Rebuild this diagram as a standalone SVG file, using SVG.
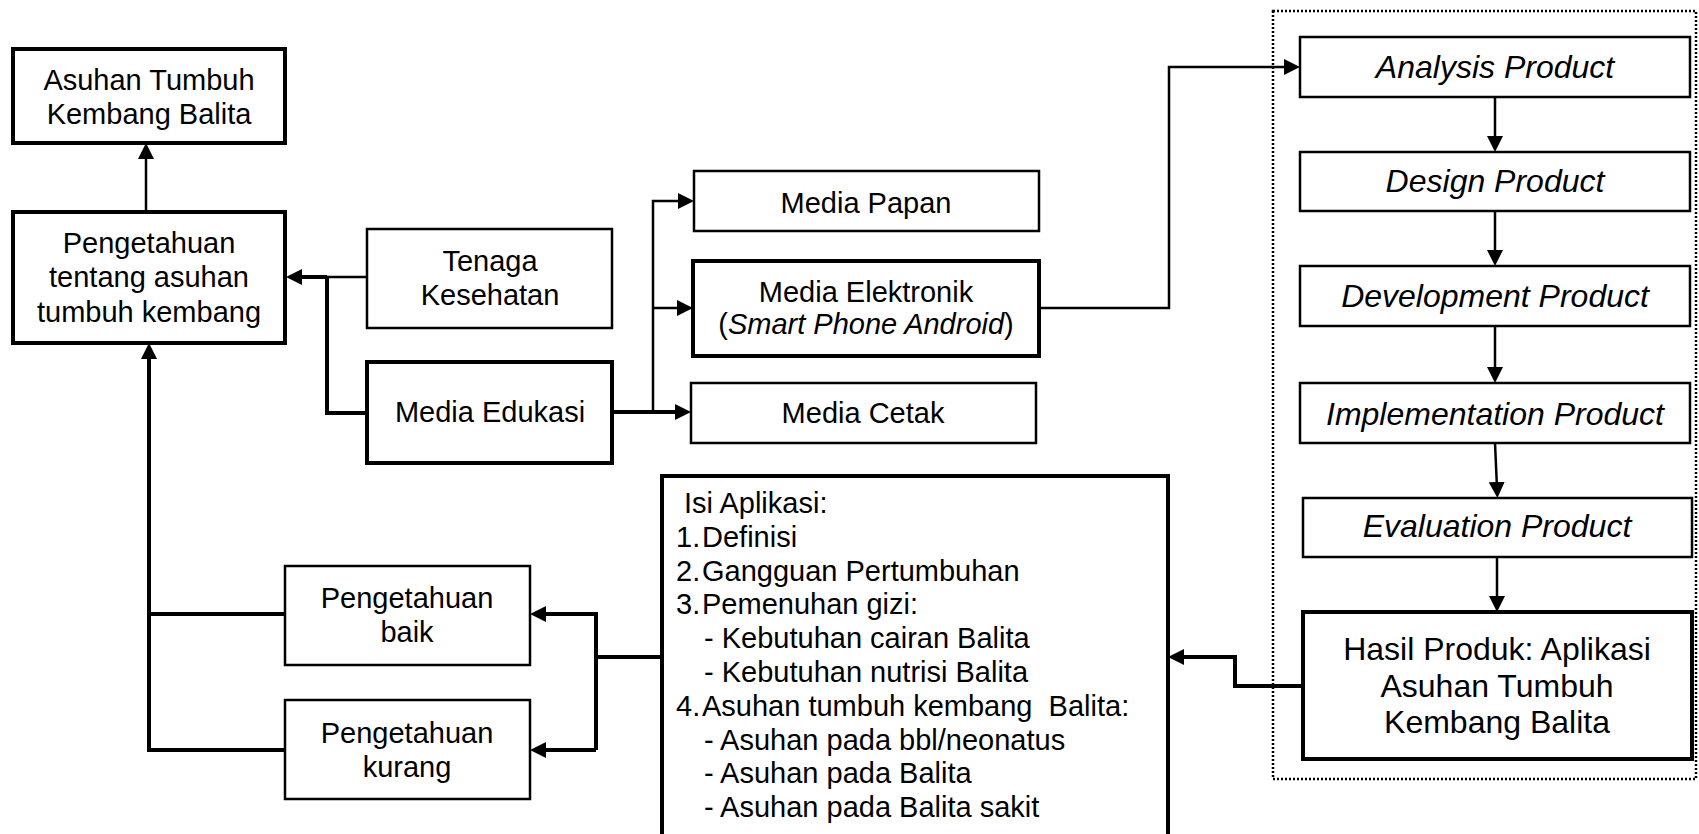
<svg xmlns="http://www.w3.org/2000/svg" width="1699" height="834" viewBox="0 0 1699 834">
<style>
  text { font-family: "Liberation Sans", Arial, sans-serif; font-size: 29px; fill: #000; }
  .c { text-anchor: middle; }
  .it { font-style: italic; font-size: 32px; }
  .big { font-size: 32px; }
  .thin { fill: #fff; stroke: #000; stroke-width: 2.5; }
  .thick { fill: #fff; stroke: #000; stroke-width: 4; }
  .ln { fill: none; stroke: #000; stroke-width: 2.5; }
  .lnb { fill: none; stroke: #000; stroke-width: 4; }
  .dot { fill: none; stroke: #000; stroke-width: 2.5; stroke-dasharray: 2 2; }
  .pre { white-space: pre; }
</style>
<defs>
  <marker id="ah" markerUnits="userSpaceOnUse" markerWidth="16" markerHeight="16" refX="6" refY="8" orient="auto">
    <path d="M0,0 L16,8 L0,16 z" fill="#000"/>
  </marker>
</defs>
<rect width="1699" height="834" fill="#fff"/>

<rect class="dot" x="1273" y="11" width="423" height="768"/>

<g id="connectors">
  <path class="ln" d="M146,212 V153" marker-end="url(#ah)"/>
  <path class="ln" d="M367,277 H327"/>
  <path class="lnb" d="M327,277 H296" marker-end="url(#ah)"/>
  <path class="lnb" d="M367,413 H327 V277"/>
  <path class="lnb" d="M612,412 H681" marker-end="url(#ah)"/>
  <path class="ln" d="M653,412 V201 H684" marker-end="url(#ah)"/>
  <path class="ln" d="M653,308 H683" marker-end="url(#ah)"/>
  <path class="ln" d="M1039,308 H1169 V67 H1290" marker-end="url(#ah)"/>
  <path class="ln" d="M1495,97 V142" marker-end="url(#ah)"/>
  <path class="ln" d="M1495,211 V256" marker-end="url(#ah)"/>
  <path class="ln" d="M1495,326 V373" marker-end="url(#ah)"/>
  <path class="ln" d="M1495,443 L1497,488" marker-end="url(#ah)"/>
  <path class="ln" d="M1497,557 V602" marker-end="url(#ah)"/>
  <path class="lnb" d="M1303,686 H1235 V657 H1178" marker-end="url(#ah)"/>
  <path class="lnb" d="M662,657 H596"/>
  <path class="lnb" d="M596,750 V614 H540" marker-end="url(#ah)"/>
  <path class="lnb" d="M596,750 H540" marker-end="url(#ah)"/>
  <path class="lnb" d="M285,614 H149"/>
  <path class="lnb" d="M285,750 H149 V353" marker-end="url(#ah)"/>
</g>

<g id="asuhan-tumbuh-kembang">
  <rect class="thick" x="13" y="49" width="272" height="94"/>
  <text class="c" x="149" y="90">Asuhan Tumbuh</text>
  <text class="c" x="149" y="124">Kembang Balita</text>
</g>

<g id="pengetahuan-tentang">
  <rect class="thick" x="13" y="212" width="272" height="131"/>
  <text class="c" x="149" y="253">Pengetahuan</text>
  <text class="c" x="149" y="287">tentang asuhan</text>
  <text class="c" x="149" y="322">tumbuh kembang</text>
</g>

<g id="tenaga-kesehatan">
  <rect class="thin" x="367" y="229" width="245" height="99"/>
  <text class="c" x="490" y="271">Tenaga</text>
  <text class="c" x="490" y="305">Kesehatan</text>
</g>

<g id="media-edukasi">
  <rect class="thick" x="367" y="362" width="245" height="101"/>
  <text class="c" x="490" y="422">Media Edukasi</text>
</g>

<g id="media-papan">
  <rect class="thin" x="694" y="171" width="345" height="60"/>
  <text class="c" x="866" y="213">Media Papan</text>
</g>

<g id="media-elektronik">
  <rect class="thick" x="693" y="261" width="346" height="95"/>
  <text class="c" x="866" y="302">Media Elektronik</text>
  <text class="c" x="866" y="334">(<tspan font-style="italic">Smart Phone Android</tspan>)</text>
</g>

<g id="media-cetak">
  <rect class="thin" x="691" y="383" width="345" height="60"/>
  <text class="c" x="863" y="423">Media Cetak</text>
</g>

<g id="analysis-product">
  <rect class="thin" x="1300" y="37" width="390" height="60"/>
  <text class="c it" x="1495" y="78">Analysis Product</text>
</g>

<g id="design-product">
  <rect class="thin" x="1300" y="152" width="390" height="59"/>
  <text class="c it" x="1495" y="192">Design Product</text>
</g>

<g id="development-product">
  <rect class="thin" x="1300" y="266" width="390" height="60"/>
  <text class="c it" x="1495" y="307">Development Product</text>
</g>

<g id="implementation-product">
  <rect class="thin" x="1300" y="383" width="390" height="60"/>
  <text class="c it" x="1495" y="425">Implementation Product</text>
</g>

<g id="evaluation-product">
  <rect class="thin" x="1303" y="498" width="389" height="59"/>
  <text class="c it" x="1497" y="537">Evaluation Product</text>
</g>

<g id="hasil-produk">
  <rect class="thick" x="1303" y="612" width="389" height="147"/>
  <text class="c big" x="1497" y="660">Hasil Produk: Aplikasi</text>
  <text class="c big" x="1497" y="697">Asuhan Tumbuh</text>
  <text class="c big" x="1497" y="733">Kembang Balita</text>
</g>

<g id="isi-aplikasi">
  <path class="thick" d="M662,850 V476 H1168 V850"/>
  <text x="684" y="513">Isi Aplikasi:</text>
  <text x="676" y="547">1.</text><text x="702" y="547">Definisi</text>
  <text x="676" y="581">2.</text><text x="702" y="581">Gangguan Pertumbuhan</text>
  <text x="676" y="614">3.</text><text x="702" y="614">Pemenuhan gizi:</text>
  <text x="704" y="648">- Kebutuhan cairan Balita</text>
  <text x="704" y="682">- Kebutuhan nutrisi Balita</text>
  <text x="676" y="716">4.</text><text class="pre" x="702" y="716">Asuhan tumbuh kembang  Balita:</text>
  <text x="704" y="750">- Asuhan pada bbl/neonatus</text>
  <text x="704" y="783">- Asuhan pada Balita</text>
  <text x="704" y="817">- Asuhan pada Balita sakit</text>
</g>

<g id="pengetahuan-baik">
  <rect class="thin" x="285" y="566" width="245" height="99"/>
  <text class="c" x="407" y="608">Pengetahuan</text>
  <text class="c" x="407" y="642">baik</text>
</g>

<g id="pengetahuan-kurang">
  <rect class="thin" x="285" y="700" width="245" height="99"/>
  <text class="c" x="407" y="743">Pengetahuan</text>
  <text class="c" x="407" y="777">kurang</text>
</g>
</svg>
